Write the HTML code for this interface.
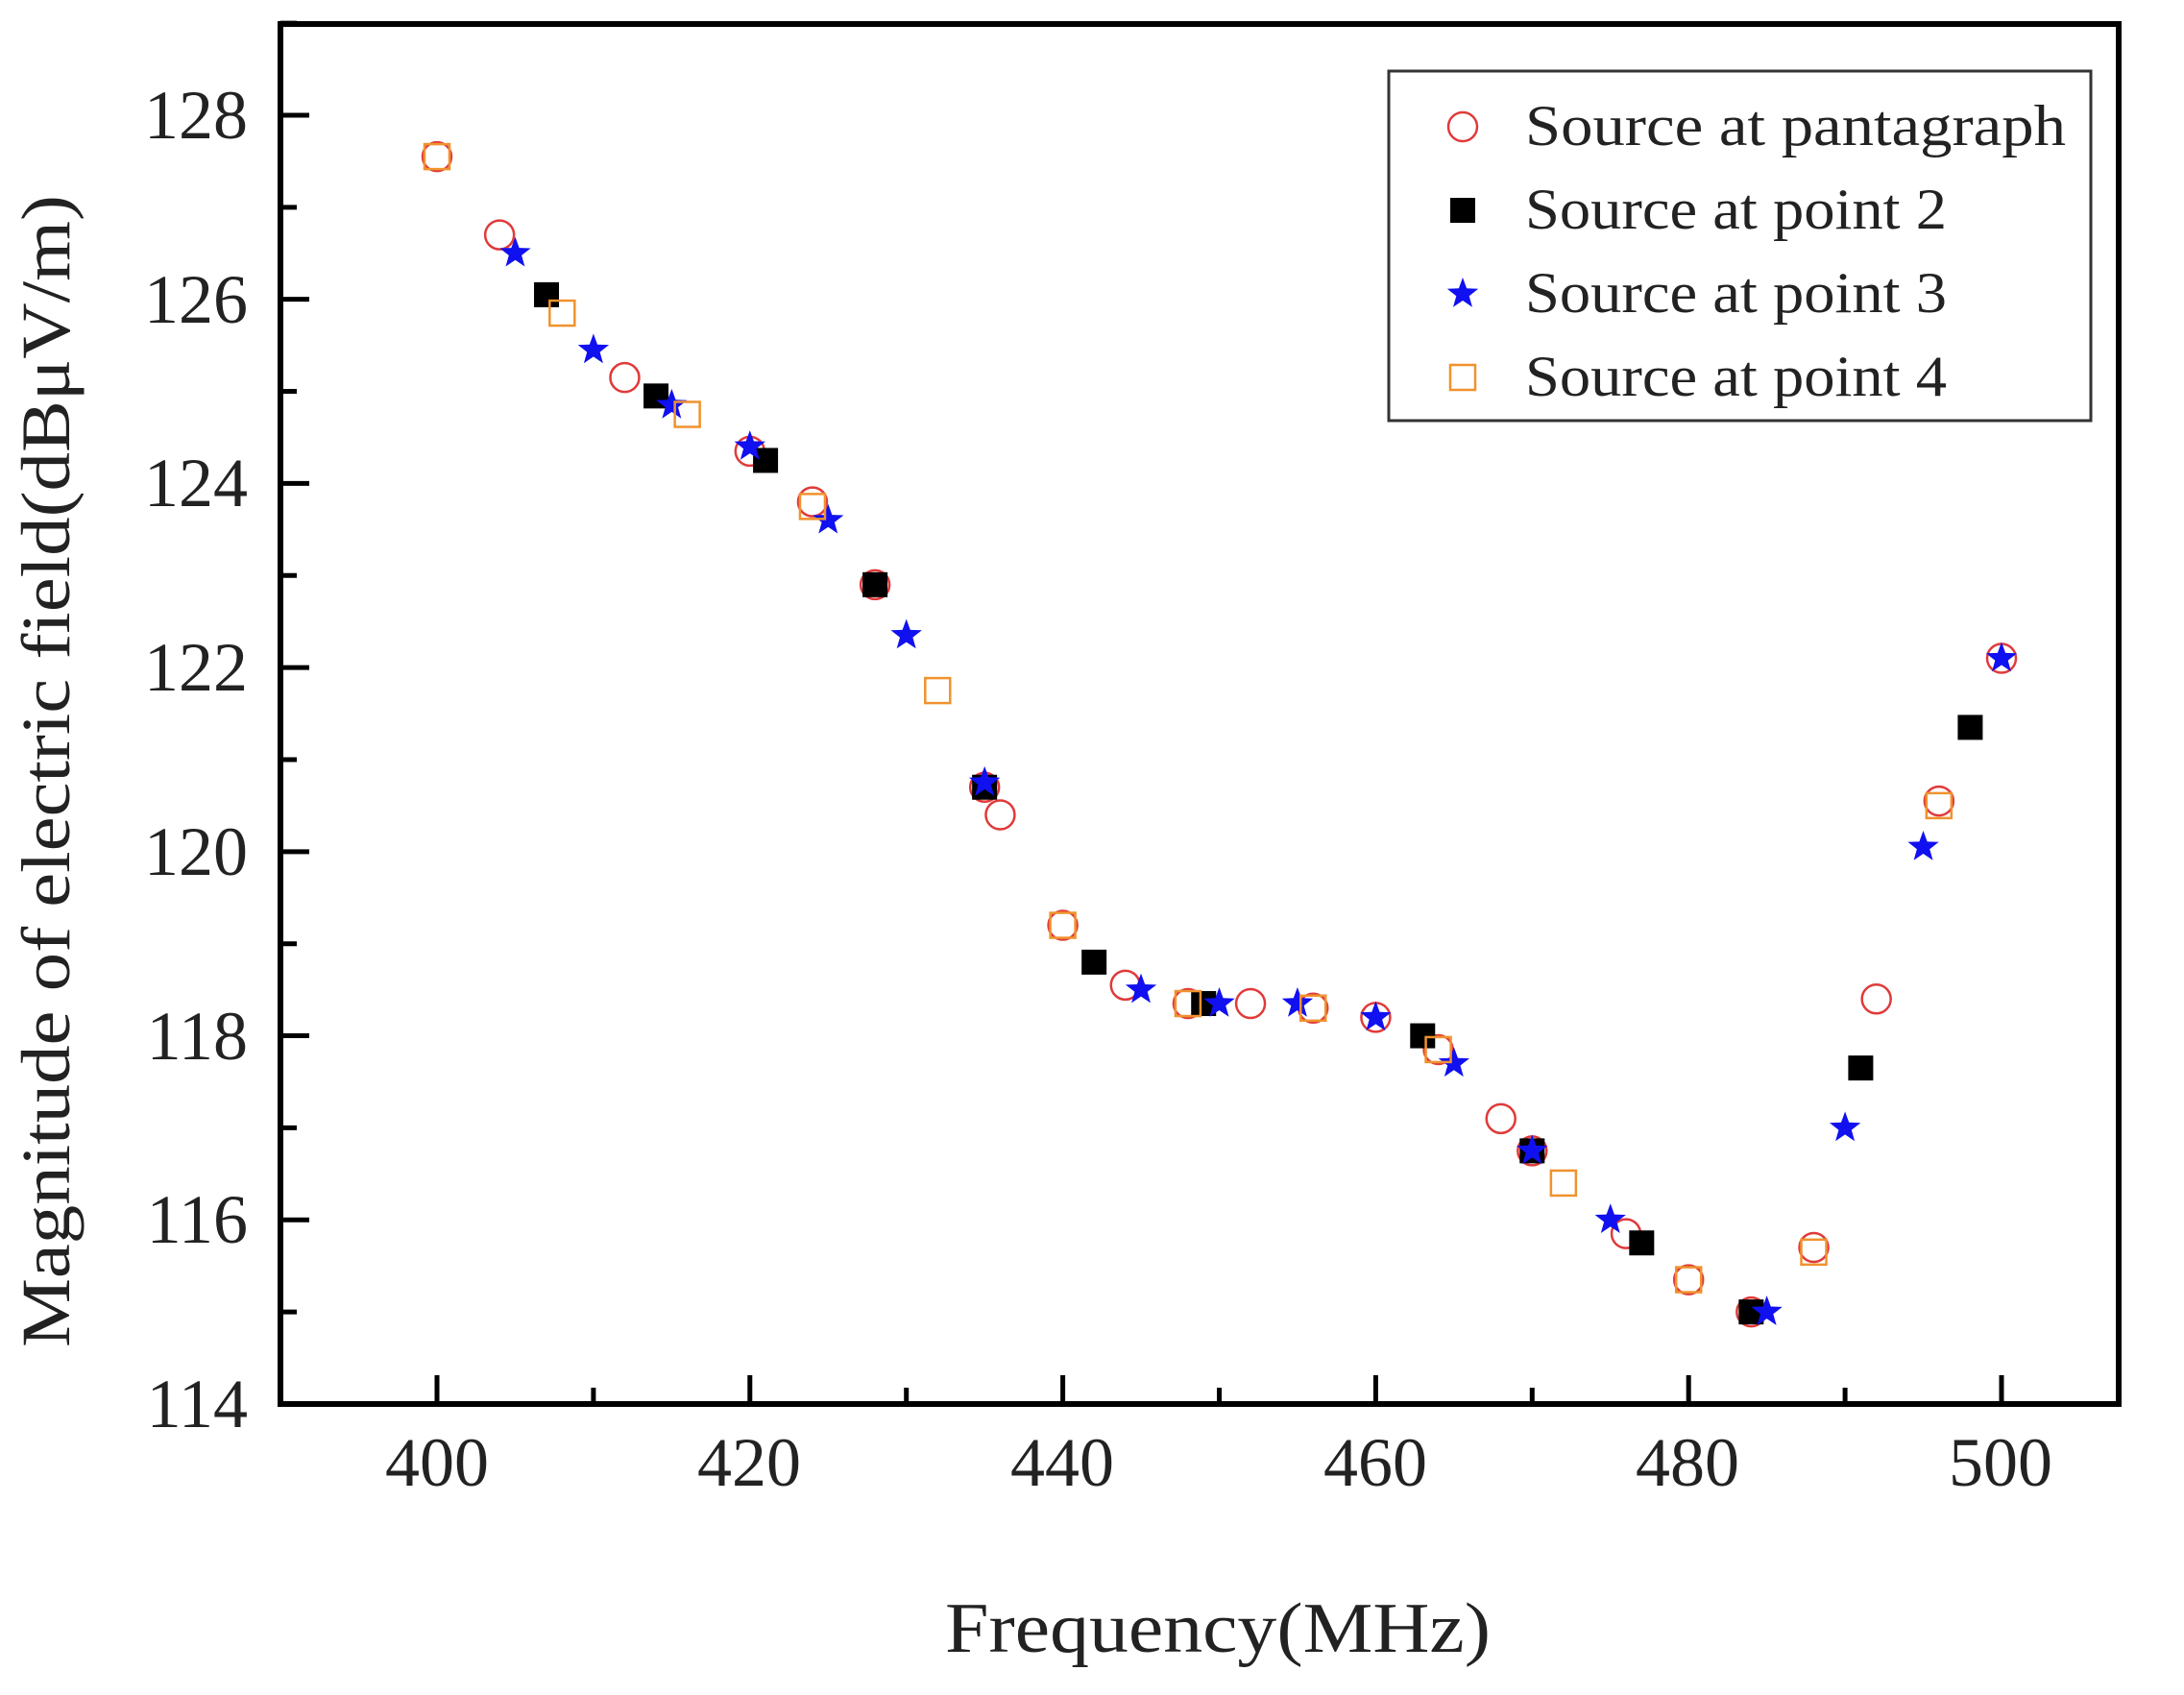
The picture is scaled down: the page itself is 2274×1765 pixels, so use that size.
<!DOCTYPE html>
<html><head><meta charset="utf-8"><style>html,body{margin:0;padding:0;background:#fff}svg{display:block}</style></head>
<body>
<svg id="s" width="2274" height="1765" viewBox="0 0 2274 1765" xmlns="http://www.w3.org/2000/svg" font-family="Liberation Serif, serif">
<rect width="2274" height="1765" fill="#fff"/>
<g id="ticks" stroke="#000" stroke-width="5"></g>
<rect x="292" y="25" width="1914" height="1437" fill="none" stroke="#000" stroke-width="6"/>
<g font-size="72" text-anchor="middle" fill="#222">
<text x="455" y="1547">400</text><text x="780" y="1547">420</text><text x="1106" y="1547">440</text>
<text x="1432" y="1547">460</text><text x="1757" y="1547">480</text><text x="2083" y="1547">500</text>
</g>
<g font-size="72" text-anchor="end" fill="#222">
<text x="258" y="144">128</text><text x="258" y="336">126</text><text x="258" y="527">124</text>
<text x="258" y="719">122</text><text x="258" y="911">120</text><text x="258" y="1103">118</text>
<text x="258" y="1294">116</text><text x="258" y="1486">114</text>
</g>
<text x="984" y="1720" font-size="74" textLength="568" lengthAdjust="spacingAndGlyphs" fill="#222">Frequency(MHz)</text>
<text transform="translate(72,1403) rotate(-90)" font-size="72" textLength="1200" lengthAdjust="spacingAndGlyphs" fill="#222">Magnitude of electric field(dBμV/m)</text>
<g id="pts"></g>
<rect x="1446" y="74" width="731" height="364" fill="#fff" stroke="#333" stroke-width="3"/>
<g font-size="60" fill="#222">
<text x="1588" y="151" textLength="563" lengthAdjust="spacingAndGlyphs">Source at pantagraph</text>
<text x="1588" y="238" textLength="439" lengthAdjust="spacingAndGlyphs">Source at point 2</text>
<text x="1588" y="325" textLength="439" lengthAdjust="spacingAndGlyphs">Source at point 3</text>
<text x="1588" y="412" textLength="439" lengthAdjust="spacingAndGlyphs">Source at point 4</text>
</g>
<g id="leg"></g>
</svg>
<script>
var NS="http://www.w3.org/2000/svg";
function X(f){return 455+(f-400)*16.29}
function Y(v){return 1462-(v-114)*95.86}
function el(p,t,a){var e=document.createElementNS(NS,t);for(var k in a)e.setAttribute(k,a[k]);p.appendChild(e);return e}
var tk=document.getElementById('ticks');
for(var f=390;f<=510;f+=10){if(f<=392||f>=510)continue;var L=(f%20==0)?30:17;el(tk,'line',{x1:X(f),x2:X(f),y1:1462,y2:1462-L})}
for(var v=114;v<=129;v+=1){var L=(v%2==0)?30:17;el(tk,'line',{x1:292,x2:292+L,y1:Y(v),y2:Y(v)})}
function circ(g,x,y){el(g,'circle',{cx:x,cy:y,r:15,fill:'none',stroke:'#e03a3a','stroke-width':2.5})}
function bsq(g,x,y){el(g,'rect',{x:x-13,y:y-13,width:26,height:26,fill:'#000'})}
function osq(g,x,y){el(g,'rect',{x:x-13,y:y-13,width:26,height:26,fill:'none',stroke:'#f0922e','stroke-width':2.5})}
function star(g,x,y){var p=[],R=17,r=7;for(var i=0;i<10;i++){var a=-Math.PI/2+i*Math.PI/5,rr=i%2?r:R;p.push((x+rr*Math.cos(a)).toFixed(1)+','+(y+rr*Math.sin(a)).toFixed(1))}el(g,'polygon',{points:p.join(' '),fill:'#1010f0'})}
var red=[[400,127.55],[404,126.7],[412,125.15],[420,124.35],[424,123.8],[428,122.9],[435,120.7],[436,120.4],[440,119.2],[444,118.55],[448,118.35],[452,118.35],[456,118.3],[460,118.2],[464,117.85],[468,117.1],[470,116.75],[476,115.85],[480,115.35],[484,115.0],[488,115.7],[492,118.4],[496,120.55],[500,122.1]];
var blk=[[407,126.05],[414,124.95],[421,124.25],[428,122.9],[435,120.7],[442,118.8],[449,118.35],[463,118.0],[470,116.75],[477,115.75],[484,115.0],[491,117.65],[498,121.35]];
var blu=[[405,126.5],[410,125.45],[415,124.85],[420,124.4],[425,123.6],[430,122.35],[435,120.75],[445,118.5],[450,118.35],[455,118.35],[460,118.2],[465,117.7],[470,116.75],[475,116.0],[485,115.0],[490,117.0],[495,120.05],[500,122.1]];
var org=[[400,127.55],[408,125.85],[416,124.75],[424,123.75],[432,121.75],[440,119.2],[448,118.35],[456,118.3],[464,117.85],[472,116.4],[480,115.35],[488,115.65],[496,120.5]];
var g=document.getElementById('pts');
red.forEach(function(d){circ(g,X(d[0]),Y(d[1]))});
blk.forEach(function(d){bsq(g,X(d[0]),Y(d[1]))});
blu.forEach(function(d){star(g,X(d[0]),Y(d[1]))});
org.forEach(function(d){osq(g,X(d[0]),Y(d[1]))});
var lg=document.getElementById('leg');
circ(lg,1523,132);bsq(lg,1523,219);star(lg,1523,306);osq(lg,1523,393);
</script>
</body></html>
